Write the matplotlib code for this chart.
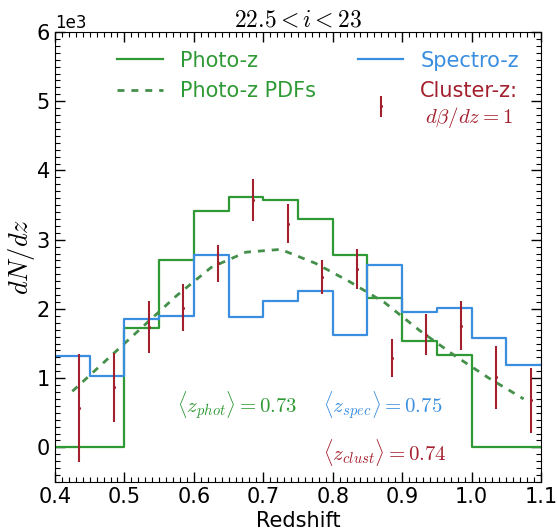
import numpy as np
import matplotlib
matplotlib.use('Agg')
import matplotlib.pyplot as plt
from matplotlib.ticker import MultipleLocator

plt.rcParams['mathtext.fontset'] = 'cm'
plt.rcParams['font.family'] = 'DejaVu Sans'

# redshift bins (edges) and histogram counts dN/dz
edges = np.arange(0.40, 1.1001, 0.05)
photo_z = [0, 0, 1720, 2700, 3410, 3620, 3580, 3300, 2780, 2160, 1540, 1340, 0, 0]
spec_z = [1320, 1030, 1860, 1900, 2780, 1880, 2120, 2260, 1620, 2630, 1960, 2010, 1580, 1190]

# summed photo-z PDFs at bin centres
pdf_z = [0.425, 0.475, 0.525, 0.575, 0.625, 0.675, 0.725, 0.775, 0.825, 0.875, 0.925, 0.975, 1.025, 1.075]
pdf_n = [810, 1270, 1730, 2190, 2600, 2820, 2860, 2660, 2390, 2090, 1690, 1330, 1000, 700]

# clustering redshifts
clust_z = [0.435, 0.485, 0.535, 0.585, 0.635, 0.685, 0.735, 0.785, 0.835, 0.885, 0.935, 0.985, 1.035, 1.085]
clust_n = [570, 870, 1740, 2020, 2660, 3570, 3230, 2460, 2580, 1290, 1630, 1760, 1010, 680]
clust_err = [780, 500, 370, 340, 270, 300, 280, 250, 290, 280, 300, 350, 460, 470]

green = '#2f9a35'
blue = '#3a8ee0'
red = '#a3202e'

fig = plt.figure(figsize=(5.57, 5.32), dpi=100)
ax = fig.add_axes([0.0987, 0.094, 0.8726, 0.8458])

ax.step(edges, photo_z + [photo_z[-1]], where='post', color=green, lw=1.6, label='Photo-z')
ax.plot(pdf_z, pdf_n, '--', color='#44904a', lw=2.0, dashes=(2.5, 2.5), label='Photo-z PDFs')
ax.step(edges, spec_z + [spec_z[-1]], where='post', color=blue, lw=1.6, label='Spectro-z')
ax.errorbar(clust_z, clust_n, yerr=clust_err, fmt='.', color=red, ms=2.5, lw=1.5,
            capsize=0, label='Cluster-z:\n$d\\beta/dz=1$')

ax.set_xlim(0.4, 1.1)
ax.set_ylim(-500, 6000)
ax.xaxis.set_major_locator(MultipleLocator(0.1))
ax.xaxis.set_minor_locator(MultipleLocator(0.01))
ax.yaxis.set_major_locator(MultipleLocator(1000))
ax.yaxis.set_minor_locator(MultipleLocator(100))
ax.ticklabel_format(axis='y', style='sci', scilimits=(3, 3))
ax.yaxis.get_offset_text().set_fontsize(12)
ax.tick_params(which='both', direction='in', top=True, right=True, labelsize=15)
ax.tick_params(which='major', length=7, width=1)
ax.tick_params(which='minor', length=3.5, width=0.8)

ax.set_xlabel('Redshift', fontsize=15, labelpad=3)
ax.set_ylabel('$dN/dz$', fontsize=19, labelpad=0)
ax.set_title('$22.5 < i < 23$', fontsize=17, pad=4)

ax.text(0.576, 600, r'$\langle z_{phot}\rangle=0.73$', color=green, fontsize=15, va='center')
ax.text(0.786, 600, r'$\langle z_{spec}\rangle=0.75$', color=blue, fontsize=15, va='center')
ax.text(0.786, -70, r'$\langle z_{clust}\rangle=0.74$', color=red, fontsize=15, va='center')

leg = ax.legend(ncol=2, frameon=False, loc='upper left', bbox_to_anchor=(0.09, 1.0),
                fontsize=15, handlelength=2.2, handletextpad=0.8, columnspacing=2.0,
                labelspacing=0.5)
for txt, col in zip(leg.get_texts(), [green, green, blue, red]):
    txt.set_color(col)
leg.get_texts()[3].set_multialignment('center')

fig.savefig('out.png', dpi=100)
